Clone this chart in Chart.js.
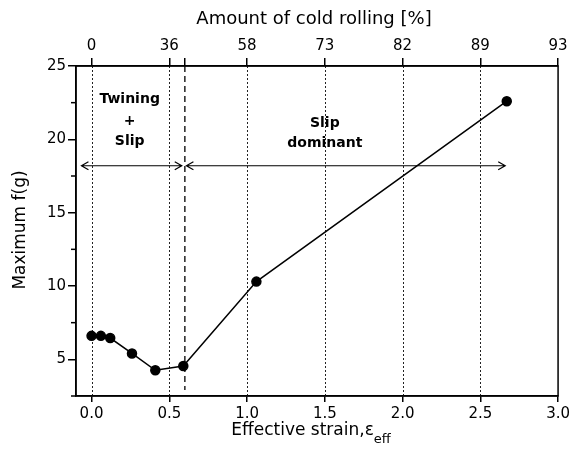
<!DOCTYPE html>
<html>
<head>
<meta charset="utf-8">
<script src="https://cdn.jsdelivr.net/npm/chart.js@4/dist/chart.umd.min.js"></script>
<style>
  html, body { margin: 0; padding: 0; background: #fff; }
  #wrap { width: 573px; height: 465px; }
</style>
</head>
<body>
<div id="wrap"><canvas id="myChart"></canvas></div>
<script>
// data
const strain = [0, 0.06, 0.12, 0.26, 0.41, 0.59, 1.06, 2.67];
const maxF = [6.6, 6.6, 6.45, 5.4, 4.25, 4.55, 10.3, 22.6];

const strainTicks = [0, 0.5, 1.0, 1.5, 2.0, 2.5, 3.0];
const rollingLabels = ["0", "36", "58", "73", "82", "89", "93"];
const boundaryStrain = 0.6;
const guideStrain = [0, 0.5, 1.0, 1.5, 2.0, 2.5];
const yMajor = [5, 10, 15, 20, 25];
const yMinor = [2.5, 7.5, 12.5, 17.5, 22.5];

const arrowLevel = 18.2;
const arrowSpans = [[-0.065, 0.58], [0.61, 2.66]];
const twinText = ["Twining", "+", "Slip"];
const slipText = ["Slip", "dominant"];

const FONT = '"DejaVu Sans", sans-serif';

const extras = {
  id: "extras",
  beforeDatasetsDraw(chart) {
    const { ctx, chartArea: a, scales: { x, y } } = chart;
    ctx.save();
    ctx.strokeStyle = "#222";
    // dotted guides
    ctx.lineWidth = 1;
    ctx.setLineDash([2, 2]);
    guideStrain.forEach((v) => {
      const px = Math.round(x.getPixelForValue(v)) + 0.5;
      ctx.beginPath();
      ctx.moveTo(px, a.top);
      ctx.lineTo(px, a.bottom);
      ctx.stroke();
    });
    // dashed boundary
    ctx.lineWidth = 1.5;
    ctx.setLineDash([6, 4]);
    const bx = x.getPixelForValue(boundaryStrain);
    ctx.beginPath();
    ctx.moveTo(bx, a.top);
    ctx.lineTo(bx, a.bottom - 6);
    ctx.stroke();
    ctx.setLineDash([]);

    // arrows
    ctx.lineWidth = 1.2;
    ctx.strokeStyle = "#000";
    const ay = y.getPixelForValue(arrowLevel);
    arrowSpans.forEach(([s, e]) => {
      const x1 = x.getPixelForValue(s), x2 = x.getPixelForValue(e);
      ctx.beginPath();
      ctx.moveTo(x1, ay); ctx.lineTo(x2, ay);
      ctx.moveTo(x1 + 7, ay - 4); ctx.lineTo(x1, ay); ctx.lineTo(x1 + 7, ay + 4);
      ctx.moveTo(x2 - 7, ay - 4); ctx.lineTo(x2, ay); ctx.lineTo(x2 - 7, ay + 4);
      ctx.stroke();
    });

    // region labels
    ctx.fillStyle = "#000";
    ctx.font = "bold 14px " + FONT;
    ctx.textAlign = "center";
    ctx.textBaseline = "middle";
    const tx = x.getPixelForValue(0.245);
    const ty = y.getPixelForValue(22.75);
    ctx.fillText(twinText[0], tx, ty);
    ctx.fillText(twinText[1], tx, ty + 22);
    ctx.fillText(twinText[2], tx, ty + 42);
    const sx = x.getPixelForValue(1.5);
    const sy = y.getPixelForValue(21.1);
    ctx.fillText(slipText[0], sx, sy);
    ctx.fillText(slipText[1], sx, sy + 20);

    // minor y ticks
    ctx.lineWidth = 1.5;
    yMinor.forEach((v) => {
      const py = y.getPixelForValue(v);
      ctx.beginPath();
      ctx.moveTo(a.left - 5, py);
      ctx.lineTo(a.left, py);
      ctx.stroke();
    });

    // frame
    ctx.strokeRect(a.left, a.top, a.right - a.left, a.bottom - a.top);

    // titles
    ctx.font = "18px " + FONT;
    ctx.textBaseline = "middle";
    ctx.fillText("Amount of cold rolling [%]", 314, 19);
    ctx.textAlign = "left";
    const t = "Effective strain,\u03b5";
    ctx.font = "17px " + FONT;
    const w = ctx.measureText(t).width;
    ctx.font = "13px " + FONT;
    const ws = ctx.measureText("eff").width;
    const start = 311 - (w + ws) / 2;
    ctx.font = "17px " + FONT;
    ctx.fillText(t, start, 431);
    ctx.font = "13px " + FONT;
    ctx.fillText("eff", start + w, 440);
    ctx.save();
    ctx.translate(21, 230);
    ctx.rotate(-Math.PI / 2);
    ctx.textAlign = "center";
    ctx.font = "17px " + FONT;
    ctx.fillText("Maximum f(g)", 0, 0);
    ctx.restore();
    ctx.restore();
  }
};

const ctx = document.getElementById("myChart").getContext("2d");
const tickFont = { family: FONT, size: 15 };

new Chart(ctx, {
  type: "scatter",
  data: {
    datasets: [{
      data: strain.map((s, i) => ({ x: s, y: maxF[i] })),
      showLine: true,
      borderColor: "#000",
      borderWidth: 1.5,
      backgroundColor: "#000",
      pointRadius: 4.5,
      pointHoverRadius: 4.5,
    }],
  },
  options: {
    responsive: true,
    maintainAspectRatio: false,
    animation: false,
    layout: { padding: { left: 0, right: 10, top: 0, bottom: 0 } },
    plugins: { legend: { display: false }, tooltip: { enabled: false } },
    scales: {
      x: {
        type: "linear", position: "bottom", min: -0.1, max: 3.0,
        afterBuildTicks: (s) => { s.ticks = strainTicks.map((v) => ({ value: v })); },
        afterFit: (s) => { s.height = 69; },
        ticks: { callback: (v) => v.toFixed(1), font: tickFont, color: "#000", padding: 3, maxRotation: 0 },
        grid: { drawOnChartArea: false, tickLength: 6, color: "#000", lineWidth: 1.5 },
        border: { color: "#000", width: 1.5 },
      },
      x2: {
        type: "linear", position: "top", min: -0.1, max: 3.0,
        afterBuildTicks: (s) => {
          s.ticks = strainTicks.concat([boundaryStrain]).sort((p, q) => p - q).map((v) => ({ value: v }));
        },
        afterFit: (s) => { s.height = 66; },
        ticks: {
          callback: (v) => { const i = strainTicks.indexOf(v); return i < 0 ? "" : rollingLabels[i]; },
          font: tickFont, color: "#000", padding: 3, maxRotation: 0,
        },
        grid: { drawOnChartArea: false, tickLength: 8, color: "#000", lineWidth: 1.5 },
        border: { color: "#000", width: 1.5 },
      },
      y: {
        min: 2.5, max: 25,
        afterBuildTicks: (s) => { s.ticks = yMajor.map((v) => ({ value: v })); },
        afterFit: (s) => { s.width = 76; },
        ticks: { font: tickFont, color: "#000", padding: 2 },
        grid: { drawOnChartArea: false, tickLength: 8, color: "#000", lineWidth: 1.5 },
        border: { color: "#000", width: 1.5 },
      },
    },
  },
  plugins: [extras],
});
</script>
</body>
</html>
